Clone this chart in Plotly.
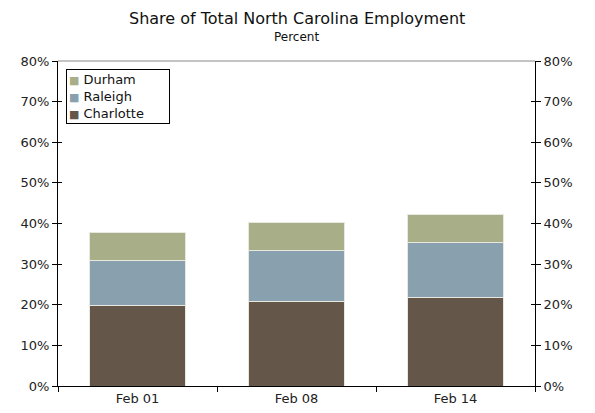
import plotly.graph_objects as go

categories = ["Feb 01", "Feb 08", "Feb 14"]
charlotte = [19.7, 20.8, 21.7]
raleigh = [11.3, 12.6, 13.7]
durham = [6.7, 6.8, 6.9]
tick_vals = [0, 10, 20, 30, 40, 50, 60, 70, 80]
tick_text = [f"{v}%" for v in tick_vals]

FONT = "DejaVu Sans"
series = [("Charlotte", charlotte, "#64574A"),
          ("Raleigh", raleigh, "#89A1AF"),
          ("Durham", durham, "#A8AE88")]
fig = go.Figure()
for name, vals, col in series:
    fig.add_trace(go.Bar(x=categories, y=vals, name=name, marker_color=col,
                         marker_line=dict(color="#E8E8E0", width=1), width=0.6,
                         showlegend=False))

for ax in ["y2", "y3", "y4"]:
    fig.add_trace(go.Scatter(x=categories, y=[None]*3, yaxis=ax, showlegend=False, hoverinfo="skip"))

yax = dict(range=[0, 80], tickvals=tick_vals, ticktext=tick_text, showgrid=False,
           zeroline=False, showline=True, linecolor="black", linewidth=1,
           ticks="outside", ticklen=5, tickcolor="black", automargin=False,
           tickfont=dict(family=FONT, size=13, color="#222"))
inner = dict(range=[0, 80], tickvals=tick_vals, showticklabels=False, showgrid=False,
             zeroline=False, ticks="inside", ticklen=4, tickcolor="black",
             overlaying="y", showline=False, automargin=False)
fig.update_layout(
    barmode="stack",
    width=595, height=413,
    margin=dict(l=58, r=60, t=61, b=27),
    paper_bgcolor="white", plot_bgcolor="white",
    font=dict(family=FONT, color="#222"),
    xaxis=dict(showgrid=False, showline=True, linecolor="black", linewidth=1,
               ticks="outside", ticklen=5, tickson="boundaries", tickcolor="black",
               automargin=False,
               tickfont=dict(family=FONT, size=13, color="#222")),
    yaxis=yax,
    yaxis2=dict(**yax, overlaying="y", side="right"),
    yaxis3=dict(**inner, side="left"),
    yaxis4=dict(**inner, side="right"),
    showlegend=False,
)
# legend box (top entry = last stacked series)
legend_lines = [f"<span style='color:{col};font-size:11px'>■</span> {name}"
                for name, vals, col in reversed(series)]
fig.add_annotation(text="<br>".join(legend_lines), xref="paper", yref="paper",
                   x=0.0168, y=0.975, xanchor="left", yanchor="top", align="left",
                   showarrow=False, bordercolor="black", borderwidth=1, borderpad=2,
                   bgcolor="white", width=98,
                   font=dict(family=FONT, size=13, color="#111"))
fig.add_annotation(text="Share of Total North Carolina Employment", xref="paper", yref="paper",
                   x=0.5, y=1.132, xanchor="center", yanchor="middle", showarrow=False,
                   font=dict(family=FONT, size=16, color="#111"))
fig.add_annotation(text="Percent", xref="paper", yref="paper",
                   x=0.5, y=1.074, xanchor="center", yanchor="middle", showarrow=False,
                   font=dict(family=FONT, size=12, color="#111"))
fig.add_shape(type="line", xref="paper", yref="paper", x0=0, x1=1, y0=1, y1=1,
              line=dict(color="#888", width=1))
fig.write_html("out.html")
